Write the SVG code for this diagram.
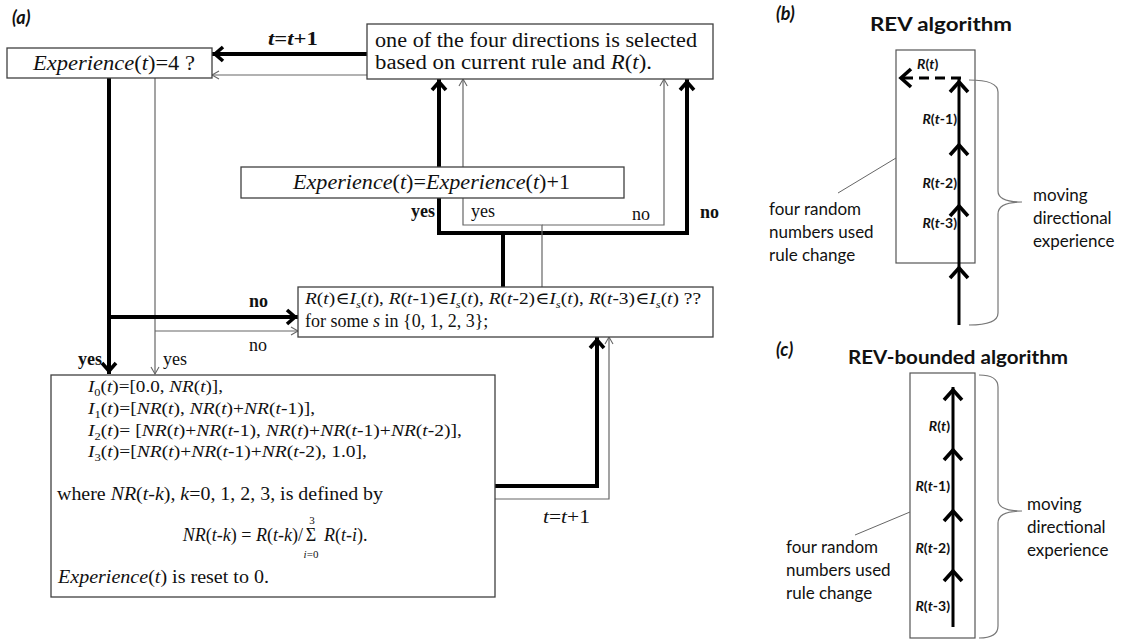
<svg xmlns="http://www.w3.org/2000/svg" width="1129" height="641" viewBox="0 0 1129 641">
  <style>
    .box { fill: #fff; stroke: #404040; stroke-width: 1.3; }
    .pbox { fill: none; stroke: #555; stroke-width: 1.2; }
    .serif { font-family: "Liberation Serif", "DejaVu Serif", serif; fill: #111; }
    .sans { font-family: Lato, "Liberation Sans", sans-serif; fill: #111; }
    .it { font-style: italic; }
    .b { font-weight: bold; }
    .thick { fill: none; stroke: #000; stroke-width: 4; stroke-linejoin: miter; }
    .thin { fill: none; stroke: #666; stroke-width: 1.2; }
    .flow { fill: none; stroke: #000; stroke-width: 3; }
    .brace { fill: none; stroke: #777; stroke-width: 1.2; }
    .lead { fill: none; stroke: #666; stroke-width: 1; }
  </style>
  <defs>
    <marker id="ah-thick" markerUnits="userSpaceOnUse" viewBox="-16 -10 18 20" markerWidth="18" markerHeight="20" refX="0" refY="0" orient="auto">
      <path d="M-11,-7 L-3,0 L-11,7" fill="none" stroke="#000" stroke-width="3.6"/>
    </marker>
    <marker id="ah-thin" markerUnits="userSpaceOnUse" viewBox="-10 -6 12 12" markerWidth="12" markerHeight="12" refX="0" refY="0" orient="auto">
      <path d="M-7,-4 L0,0 L-7,4" fill="none" stroke="#666" stroke-width="1.1"/>
    </marker>
    <marker id="ah-flow" markerUnits="userSpaceOnUse" viewBox="-18 -14 20 28" markerWidth="20" markerHeight="28" refX="0" refY="0" orient="auto">
      <path d="M-13,-9 L-3,0 L-13,9" fill="none" stroke="#000" stroke-width="3.6"/>
    </marker>
  </defs>

  <!-- panel (a): flow chart -->
  <text class="sans b it" x="12" y="24" font-size="18">(a)</text>

  <g id="connectors">
    <!-- selection box back to the Experience test -->
    <path class="thick" d="M367,54 H212" marker-end="url(#ah-thick)"/>
    <path class="thin" d="M367,75 H212" marker-end="url(#ah-thin)"/>
    <!-- out of the Experience test -->
    <path class="thick" d="M109,78 V374" marker-end="url(#ah-thick)"/>
    <path class="thin" d="M155,78 V374" marker-end="url(#ah-thin)"/>
    <path class="thick" d="M109,317 H298" marker-end="url(#ah-thick)"/>
    <path class="thin" d="M155,331 H298" marker-end="url(#ah-thin)"/>
    <!-- out of the interval test, up to the selection box -->
    <path class="thick" d="M503,287 V233 H439 V79" marker-end="url(#ah-thick)"/>
    <path class="thick" d="M503,233 H687 V79" marker-end="url(#ah-thick)"/>
    <path class="thin" d="M542,287 V225 H463 V79" marker-end="url(#ah-thin)"/>
    <path class="thin" d="M542,225 H664 V79" marker-end="url(#ah-thin)"/>
    <!-- reset box back to the interval test -->
    <path class="thick" d="M495,486 H597 V337" marker-end="url(#ah-thick)"/>
    <path class="thin" d="M495,499 H609 V337" marker-end="url(#ah-thin)"/>

    <text class="serif b" x="268" y="45" font-size="19" textLength="50" lengthAdjust="spacingAndGlyphs"><tspan class="it">t</tspan>=<tspan class="it">t</tspan>+1</text>
    <text class="serif" x="543" y="523" font-size="19" textLength="47" lengthAdjust="spacingAndGlyphs"><tspan class="it">t</tspan>=<tspan class="it">t</tspan>+1</text>
    <text class="serif b" x="249" y="307" font-size="18">no</text>
    <text class="serif" x="249" y="351" font-size="18">no</text>
    <text class="serif b" x="102" y="365" font-size="18" text-anchor="end">yes</text>
    <text class="serif" x="163" y="365" font-size="18">yes</text>
    <text class="serif b" x="435" y="217" font-size="18" text-anchor="end">yes</text>
    <text class="serif" x="471" y="217" font-size="18">yes</text>
    <text class="serif" x="632" y="220" font-size="18">no</text>
    <text class="serif b" x="700" y="218" font-size="18">no</text>
  </g>

  <g id="node-exp-test">
    <rect class="box" x="7" y="48" width="205" height="30"/>
    <text class="serif" x="33" y="70" font-size="20" textLength="162" lengthAdjust="spacingAndGlyphs"><tspan class="it">Experience</tspan>(<tspan class="it">t</tspan>)=4 ?</text>
  </g>

  <g id="node-select">
    <rect class="box" x="367" y="24" width="346" height="55"/>
    <text class="serif" x="375" y="47" font-size="20" textLength="322" lengthAdjust="spacingAndGlyphs">one of the four directions is selected</text>
    <text class="serif" x="375" y="69" font-size="20" textLength="277" lengthAdjust="spacingAndGlyphs">based on current rule and <tspan class="it">R</tspan>(<tspan class="it">t</tspan>).</text>
  </g>

  <g id="node-exp-inc">
    <rect class="box" x="241" y="167" width="383" height="31"/>
    <text class="serif" x="293" y="189" font-size="20" textLength="277" lengthAdjust="spacingAndGlyphs"><tspan class="it">Experience</tspan>(<tspan class="it">t</tspan>)=<tspan class="it">Experience</tspan>(<tspan class="it">t</tspan>)+1</text>
  </g>

  <g id="node-interval-test">
    <rect class="box" x="298" y="287" width="415" height="50"/>
    <text class="serif" x="305" y="304" font-size="17" textLength="396" lengthAdjust="spacingAndGlyphs"><tspan class="it">R</tspan>(<tspan class="it">t</tspan>)∈<tspan class="it">I</tspan><tspan class="it" font-size="11" dy="4">s</tspan><tspan dy="-4">(</tspan><tspan class="it">t</tspan>),  <tspan class="it">R</tspan>(<tspan class="it">t</tspan>-1)∈<tspan class="it">I</tspan><tspan class="it" font-size="11" dy="4">s</tspan><tspan dy="-4">(</tspan><tspan class="it">t</tspan>),  <tspan class="it">R</tspan>(<tspan class="it">t</tspan>-2)∈<tspan class="it">I</tspan><tspan class="it" font-size="11" dy="4">s</tspan><tspan dy="-4">(</tspan><tspan class="it">t</tspan>),  <tspan class="it">R</tspan>(<tspan class="it">t</tspan>-3)∈<tspan class="it">I</tspan><tspan class="it" font-size="11" dy="4">s</tspan><tspan dy="-4">(</tspan><tspan class="it">t</tspan>) ??</text>
    <text class="serif" x="305" y="327" font-size="18">for some <tspan class="it">s</tspan> in {0, 1, 2, 3};</text>
  </g>

  <g id="node-reset">
    <rect class="box" x="51" y="375" width="444" height="222"/>
    <text class="serif" x="88" y="392" font-size="17" textLength="135" lengthAdjust="spacingAndGlyphs"><tspan class="it">I</tspan><tspan font-size="11" dy="4">0</tspan><tspan dy="-4">(</tspan><tspan class="it">t</tspan>)=[0.0, <tspan class="it">NR</tspan>(<tspan class="it">t</tspan>)],</text>
    <text class="serif" x="88" y="414" font-size="17" textLength="227" lengthAdjust="spacingAndGlyphs"><tspan class="it">I</tspan><tspan font-size="11" dy="4">1</tspan><tspan dy="-4">(</tspan><tspan class="it">t</tspan>)=[<tspan class="it">NR</tspan>(<tspan class="it">t</tspan>), <tspan class="it">NR</tspan>(<tspan class="it">t</tspan>)+<tspan class="it">NR</tspan>(<tspan class="it">t</tspan>-1)],</text>
    <text class="serif" x="88" y="436" font-size="17" textLength="374" lengthAdjust="spacingAndGlyphs"><tspan class="it">I</tspan><tspan font-size="11" dy="4">2</tspan><tspan dy="-4">(</tspan><tspan class="it">t</tspan>)= [<tspan class="it">NR</tspan>(<tspan class="it">t</tspan>)+<tspan class="it">NR</tspan>(<tspan class="it">t</tspan>-1), <tspan class="it">NR</tspan>(<tspan class="it">t</tspan>)+<tspan class="it">NR</tspan>(<tspan class="it">t</tspan>-1)+<tspan class="it">NR</tspan>(<tspan class="it">t</tspan>-2)],</text>
    <text class="serif" x="88" y="457" font-size="17" textLength="279" lengthAdjust="spacingAndGlyphs"><tspan class="it">I</tspan><tspan font-size="11" dy="4">3</tspan><tspan dy="-4">(</tspan><tspan class="it">t</tspan>)=[<tspan class="it">NR</tspan>(<tspan class="it">t</tspan>)+<tspan class="it">NR</tspan>(<tspan class="it">t</tspan>-1)+<tspan class="it">NR</tspan>(<tspan class="it">t</tspan>-2),  1.0],</text>
    <text class="serif" x="57" y="500" font-size="18" textLength="326" lengthAdjust="spacingAndGlyphs">where <tspan class="it">NR</tspan>(<tspan class="it">t</tspan>-<tspan class="it">k</tspan>),  <tspan class="it">k</tspan>=0, 1, 2, 3, is defined by</text>
    <!-- normalisation formula: left side, summation sign with limits, summand -->
    <text class="serif" x="303" y="541" font-size="18" text-anchor="end"><tspan class="it">NR</tspan>(<tspan class="it">t</tspan>-<tspan class="it">k</tspan>) = <tspan class="it">R</tspan>(<tspan class="it">t</tspan>-<tspan class="it">k</tspan>)/</text>
    <text class="serif" x="311" y="541" font-size="18" text-anchor="middle">Σ</text>
    <text class="serif" x="324" y="541" font-size="18"><tspan class="it">R</tspan>(<tspan class="it">t</tspan>-<tspan class="it">i</tspan>).</text>
    <text class="serif" x="312" y="524" font-size="11" text-anchor="middle">3</text>
    <text class="serif" x="311" y="558" font-size="11" text-anchor="middle"><tspan class="it">i</tspan>=0</text>
    <text class="serif" x="58" y="583" font-size="18" textLength="211" lengthAdjust="spacingAndGlyphs"><tspan class="it">Experience</tspan>(<tspan class="it">t</tspan>) is reset to 0.</text>
  </g>

  <!-- panel (b): REV algorithm -->
  <g id="panel-b">
    <text class="sans b it" x="776" y="20" font-size="18">(b)</text>
    <text class="sans b" x="870" y="31" font-size="19" textLength="142" lengthAdjust="spacingAndGlyphs">REV  algorithm</text>
    <rect class="pbox" x="896" y="50" width="79" height="213"/>
    <path class="flow" d="M959,325 V265" marker-end="url(#ah-flow)"/>
    <path class="flow" d="M959,265 V203" marker-end="url(#ah-flow)"/>
    <path class="flow" d="M959,203 V142" marker-end="url(#ah-flow)"/>
    <path class="flow" d="M959,142 V79" marker-end="url(#ah-flow)"/>
    <path class="flow" d="M961,78 H898" stroke-dasharray="10 6" marker-end="url(#ah-flow)"/>
    <text class="sans b" x="917" y="69" font-size="14"><tspan class="it">R</tspan>(<tspan class="it">t</tspan>)</text>
    <text class="sans b" x="957" y="124" font-size="14" text-anchor="end"><tspan class="it">R</tspan>(<tspan class="it">t</tspan>-1)</text>
    <text class="sans b" x="957" y="188" font-size="14" text-anchor="end"><tspan class="it">R</tspan>(<tspan class="it">t</tspan>-2)</text>
    <text class="sans b" x="957" y="228" font-size="14" text-anchor="end"><tspan class="it">R</tspan>(<tspan class="it">t</tspan>-3)</text>
    <path class="brace" d="M969,80 Q998,80 998,92 V191 Q998,202 1022,202 Q998,202 998,214 V313 Q998,325 969,325"/>
    <text class="sans" x="1033" y="201" font-size="17">moving</text>
    <text class="sans" x="1033" y="224" font-size="17">directional</text>
    <text class="sans" x="1033" y="247" font-size="17">experience</text>
    <path class="lead" d="M838,193 L896,158"/>
    <text class="sans" x="769" y="215" font-size="17">four random</text>
    <text class="sans" x="769" y="238" font-size="17">numbers used</text>
    <text class="sans" x="769" y="261" font-size="17">rule change</text>
  </g>

  <!-- panel (c): REV-bounded algorithm -->
  <g id="panel-c">
    <text class="sans b it" x="776" y="356" font-size="18">(c)</text>
    <text class="sans b" x="848" y="364" font-size="19" textLength="220" lengthAdjust="spacingAndGlyphs">REV-bounded  algorithm</text>
    <rect class="pbox" x="910" y="373" width="65" height="265"/>
    <path class="flow" d="M953,627 V568" marker-end="url(#ah-flow)"/>
    <path class="flow" d="M953,568 V508" marker-end="url(#ah-flow)"/>
    <path class="flow" d="M953,508 V447" marker-end="url(#ah-flow)"/>
    <path class="flow" d="M953,447 V387" marker-end="url(#ah-flow)"/>
    <text class="sans b" x="950" y="431" font-size="14" text-anchor="end"><tspan class="it">R</tspan>(<tspan class="it">t</tspan>)</text>
    <text class="sans b" x="950" y="491" font-size="14" text-anchor="end"><tspan class="it">R</tspan>(<tspan class="it">t</tspan>-1)</text>
    <text class="sans b" x="950" y="553" font-size="14" text-anchor="end"><tspan class="it">R</tspan>(<tspan class="it">t</tspan>-2)</text>
    <text class="sans b" x="950" y="611" font-size="14" text-anchor="end"><tspan class="it">R</tspan>(<tspan class="it">t</tspan>-3)</text>
    <path class="brace" d="M979,375 Q998,375 998,387 V500 Q998,511 1022,511 Q998,511 998,523 V626 Q998,638 979,638"/>
    <text class="sans" x="1027" y="510" font-size="17">moving</text>
    <text class="sans" x="1027" y="533" font-size="17">directional</text>
    <text class="sans" x="1027" y="556" font-size="17">experience</text>
    <path class="lead" d="M855,535 L910,512"/>
    <text class="sans" x="786" y="553" font-size="17">four random</text>
    <text class="sans" x="786" y="576" font-size="17">numbers used</text>
    <text class="sans" x="786" y="599" font-size="17">rule change</text>
  </g>
</svg>
